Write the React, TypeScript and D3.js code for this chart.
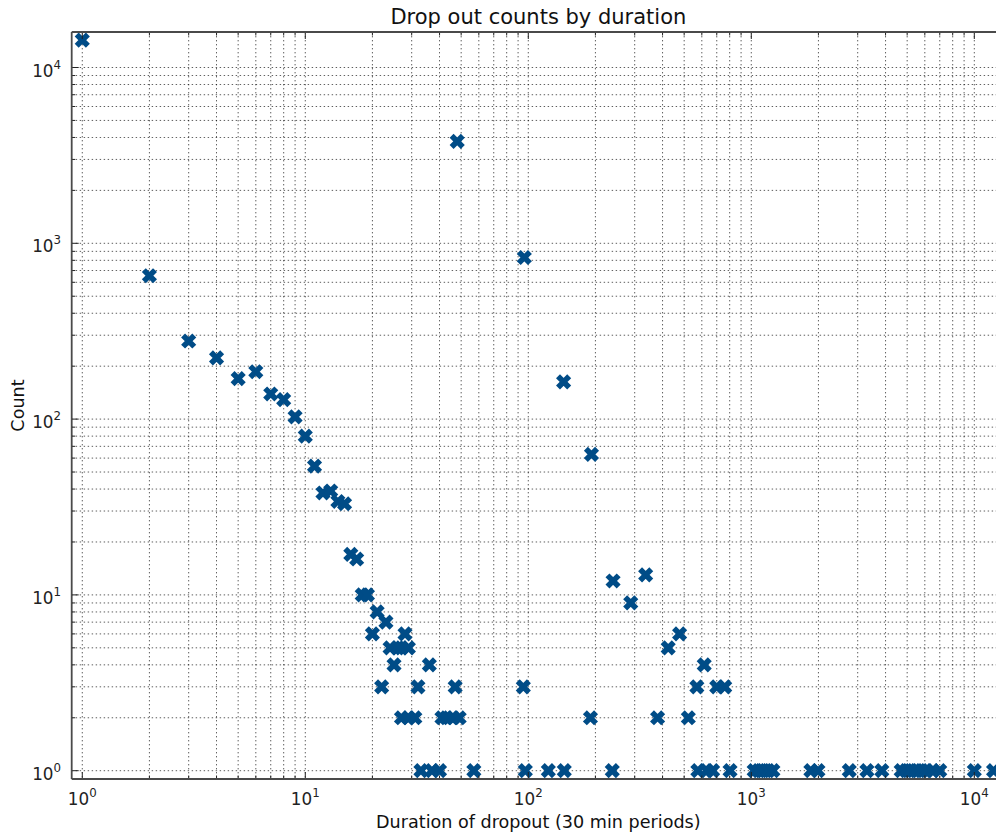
import React from 'react';
import * as d3 from 'd3';

// Duration of dropout (30 min periods) and their counts
const durations = [
  1, 2, 3, 4, 5, 6, 7, 8, 9, 10,
  11, 12, 13, 14, 15, 16, 17, 18, 19, 20,
  21, 22, 23, 24, 25, 26, 27, 28, 29,
  27, 29, 31, 32, 36, 47, 41, 43, 46, 49,
  33, 37, 40, 57, 97, 123, 145, 238,
  48, 95, 96, 144, 190, 192, 240, 288, 336, 380, 424, 477, 522, 570, 615, 700, 760,
  576, 631, 671, 803, 1030, 1080, 1130, 1190, 1250, 1850, 1990, 2750, 3300, 3850,
  4700, 4950, 5200, 5500, 5800, 6100, 6500, 7000, 10000, 12200,
];
const counts = [
  14300, 654, 278, 223, 170, 186, 139, 129, 103, 80,
  54, 38, 39, 34, 33, 17, 16, 10, 10, 6,
  8, 3, 7, 5, 4, 5, 5, 6, 5,
  2, 2, 2, 3, 4, 3, 2, 2, 2, 2,
  1, 1, 1, 1, 1, 1, 1, 1,
  3800, 3, 830, 163, 2, 63, 12, 9, 13, 2, 5, 6, 2, 3, 4, 3, 3,
  1, 1, 1, 1, 1, 1, 1, 1, 1, 1, 1, 1, 1, 1,
  1, 1, 1, 1, 1, 1, 1, 1, 1, 1,
];

const xLimits = [0.8965, 13730];
const yLimits = [0.897, 15920];
const majorTicks = [1, 10, 100, 1000, 10000];
const tickExponents = ['0', '1', '2', '3', '4'];
const minorMultipliers = [2, 3, 4, 5, 6, 7, 8, 9];

const title = 'Drop out counts by duration';
const xLabel = 'Duration of dropout (30 min periods)';
const yLabel = 'Count';

const W = 996;
const H = 834;
const L = 71.7;
const R = 1005;
const T = 32;
const B = 779;
const FONT = 'DejaVu Sans, sans-serif';
const MARK = '#004c87';

export default function App() {
  const x = d3.scaleLog().domain(xLimits).range([L, R]);
  const y = d3.scaleLog().domain(yLimits).range([B, T]);

  const minors = (lim: number[]) => {
    const out: number[] = [];
    for (const d of majorTicks) {
      for (const m of minorMultipliers) {
        const v = d * m;
        if (v >= lim[0] && v <= lim[1]) out.push(v);
      }
    }
    return out;
  };
  const xMinor = minors(xLimits);
  const yMinor = minors(yLimits);
  const xMajor = majorTicks.filter((v) => v >= xLimits[0] && v <= xLimits[1]);
  const yMajor = majorTicks.filter((v) => v >= yLimits[0] && v <= yLimits[1]);

  const gridStyle = {
    stroke: '#000',
    strokeWidth: 0.9,
    strokeDasharray: '1.4,2.6',
    opacity: 0.7,
  } as const;

  const points = durations.map((d, i) => ({ d, c: counts[i] }));

  return (
    <svg
      width={W}
      height={H}
      style={{ position: 'absolute', left: 0, top: 0, display: 'block', background: '#fff' }}
      fontFamily={FONT}
    >
      <rect x={0} y={0} width={W} height={H} fill="#fff" />
      {/* grid */}
      <g>
        {[...xMajor, ...xMinor].map((v, i) => (
          <line key={'gx' + i} x1={x(v)} x2={x(v)} y1={T} y2={B} {...gridStyle} />
        ))}
        {[...yMajor, ...yMinor].map((v, i) => (
          <line key={'gy' + i} x1={L} x2={R} y1={y(v)} y2={y(v)} {...gridStyle} />
        ))}
      </g>
      {/* points */}
      <g>
        {points.map((p, i) => (
          <path
            key={'p' + i}
            transform={`translate(${x(p.d)},${y(p.c)})`}
            d="M-5.6,-5.6L5.6,5.6M-5.6,5.6L5.6,-5.6"
            stroke={MARK}
            strokeWidth={5.6}
            strokeLinecap="butt"
            fill="none"
          />
        ))}
      </g>
      {/* ticks */}
      <g stroke="#222" strokeWidth={1}>
        {xMajor.map((v, i) => (
          <g key={'tx' + i}>
            <line x1={x(v)} x2={x(v)} y1={B} y2={B - 7} />
            <line x1={x(v)} x2={x(v)} y1={T} y2={T + 7} />
          </g>
        ))}
        {xMinor.map((v, i) => (
          <g key={'tmx' + i}>
            <line x1={x(v)} x2={x(v)} y1={B} y2={B - 3.5} />
            <line x1={x(v)} x2={x(v)} y1={T} y2={T + 3.5} />
          </g>
        ))}
        {yMajor.map((v, i) => (
          <line key={'ty' + i} x1={L} x2={L + 7} y1={y(v)} y2={y(v)} />
        ))}
        {yMinor.map((v, i) => (
          <line key={'tmy' + i} x1={L} x2={L + 3.5} y1={y(v)} y2={y(v)} />
        ))}
      </g>
      {/* spines */}
      <g stroke="#4a4a4a" strokeWidth={1.8} fill="none">
        <line x1={L} x2={L} y1={T} y2={B} />
        <line x1={L} x2={R} y1={T} y2={T} />
        <line x1={L} x2={R} y1={B} y2={B} />
        <line x1={R} x2={R} y1={T} y2={B} />
      </g>
      {/* tick labels */}
      <g fill="#222">
        {xMajor.map((v, i) => (
          <text key={'lx' + i} x={x(v)} y={805} textAnchor="middle" fontSize={16.8}>
            10<tspan fontSize={11.8} dy={-8}>{tickExponents[majorTicks.indexOf(v)]}</tspan>
          </text>
        ))}
        {yMajor.map((v, i) => (
          <text key={'ly' + i} x={61} y={y(v) + 9} textAnchor="end" fontSize={16.8}>
            10<tspan fontSize={11.8} dy={-8}>{tickExponents[majorTicks.indexOf(v)]}</tspan>
          </text>
        ))}
      </g>
      {/* labels */}
      <text x={(L + R) / 2} y={24} textAnchor="middle" fontSize={21} fill="#111">
        {title}
      </text>
      <text x={(L + R) / 2} y={828} textAnchor="middle" fontSize={17.6} fill="#111">
        {xLabel}
      </text>
      <text
        transform={`translate(24,${(T + B) / 2}) rotate(-90)`}
        textAnchor="middle"
        fontSize={17.6}
        fill="#111"
      >
        {yLabel}
      </text>
    </svg>
  );
}
